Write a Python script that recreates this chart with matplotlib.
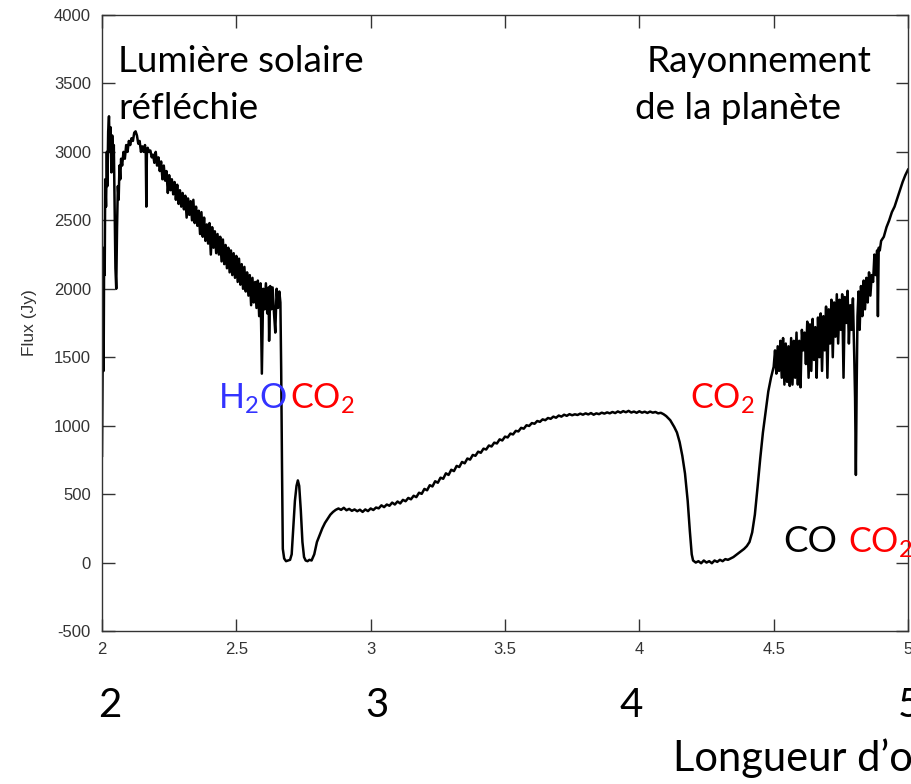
import matplotlib
matplotlib.use("Agg")
import matplotlib.pyplot as plt

plt.rcParams["axes.unicode_minus"] = False

# ---- data ----
wavelength = [
    2.000, 2.002, 2.004, 2.006, 2.008, 2.010, 2.012, 2.015, 2.018, 2.020,
    2.023, 2.026, 2.029, 2.032, 2.035, 2.038, 2.041, 2.044, 2.047, 2.050,
    2.053, 2.056, 2.059, 2.062, 2.065, 2.068, 2.071, 2.075, 2.080, 2.085,
    2.090, 2.095, 2.100, 2.105, 2.110, 2.115, 2.120, 2.125, 2.130, 2.135,
    2.140, 2.145, 2.150, 2.155, 2.160, 2.163, 2.165, 2.167, 2.170, 2.175,
    2.180, 2.185, 2.190, 2.195,
    2.200, 2.205, 2.210, 2.215, 2.220, 2.225, 2.230, 2.235, 2.240, 2.245,
    2.250, 2.255, 2.260, 2.265, 2.270, 2.275, 2.280, 2.285, 2.290, 2.295,
    2.300, 2.305, 2.310, 2.315, 2.320, 2.325, 2.330, 2.335, 2.340, 2.345,
    2.350, 2.355, 2.360, 2.365, 2.370, 2.375, 2.380, 2.385, 2.390, 2.395,
    2.400, 2.405, 2.410, 2.415, 2.420, 2.425, 2.430, 2.435, 2.440, 2.445,
    2.450, 2.455, 2.460, 2.465, 2.470, 2.475, 2.480, 2.485, 2.490, 2.495,
    2.500, 2.505, 2.510, 2.515, 2.520, 2.525, 2.530, 2.535, 2.540, 2.545,
    2.550, 2.555, 2.560, 2.565, 2.570, 2.575, 2.580, 2.585, 2.590, 2.595,
    2.600, 2.605, 2.610, 2.615, 2.620, 2.622, 2.626, 2.630, 2.635, 2.640,
    2.645, 2.650, 2.655, 2.660, 2.664, 2.667, 2.670, 2.673,
    2.678, 2.685, 2.692, 2.700, 2.706, 2.712, 2.718, 2.724, 2.729, 2.734,
    2.740, 2.746, 2.752, 2.758, 2.765, 2.772, 2.780, 2.790, 2.800, 2.810,
    2.820, 2.830, 2.840, 2.850, 2.860, 2.870,
    2.88, 2.89, 2.90, 2.91, 2.92, 2.93, 2.94, 2.95, 2.96, 2.97,
    2.98, 2.99, 3.00, 3.01, 3.02, 3.03, 3.04, 3.05, 3.06, 3.07,
    3.08, 3.09, 3.10, 3.11, 3.12, 3.13, 3.14, 3.15, 3.16, 3.17,
    3.18, 3.19, 3.20, 3.21, 3.22, 3.23, 3.24, 3.25, 3.26, 3.27,
    3.28, 3.29, 3.30, 3.31, 3.32, 3.33, 3.34, 3.35, 3.36, 3.37,
    3.38, 3.39, 3.40, 3.41, 3.42, 3.43, 3.44, 3.45, 3.46, 3.47,
    3.48, 3.49, 3.50, 3.51, 3.52, 3.53, 3.54, 3.55, 3.56, 3.57,
    3.58, 3.59, 3.60, 3.61, 3.62, 3.63, 3.64, 3.65, 3.66, 3.67,
    3.68, 3.69, 3.70, 3.71, 3.72, 3.73, 3.74, 3.75, 3.76, 3.77,
    3.78, 3.79, 3.80, 3.81, 3.82, 3.83, 3.84, 3.85, 3.86, 3.87,
    3.88, 3.89, 3.90, 3.91, 3.92, 3.93, 3.94, 3.95, 3.96, 3.97,
    3.98, 3.99, 4.00, 4.01, 4.02, 4.03, 4.04, 4.05, 4.06, 4.07,
    4.08, 4.09, 4.10,
    4.115, 4.130, 4.140, 4.150, 4.160, 4.170,
    4.180, 4.188, 4.195, 4.200, 4.210, 4.220, 4.230, 4.240, 4.250, 4.260,
    4.270, 4.280, 4.290, 4.300, 4.310, 4.320, 4.330, 4.340, 4.350, 4.360,
    4.370, 4.380, 4.390, 4.400, 4.410, 4.420, 4.430, 4.440, 4.450, 4.460,
    4.470, 4.480, 4.490, 4.500, 4.505, 4.510, 4.515, 4.520, 4.525, 4.530,
    4.535, 4.540, 4.545, 4.550, 4.555, 4.560, 4.565, 4.570, 4.575, 4.580,
    4.585, 4.590, 4.595, 4.600, 4.605, 4.610, 4.615, 4.620, 4.625, 4.630,
    4.635, 4.640, 4.645, 4.650, 4.655, 4.660, 4.665, 4.670, 4.675, 4.680,
    4.685, 4.690, 4.695, 4.700, 4.705, 4.710, 4.715, 4.720, 4.725, 4.730,
    4.735, 4.740, 4.745, 4.750, 4.755, 4.760, 4.765, 4.770, 4.775, 4.780,
    4.785, 4.790, 4.795, 4.800, 4.803, 4.806, 4.809, 4.812, 4.816, 4.820,
    4.825, 4.830, 4.835, 4.840, 4.845, 4.850, 4.855, 4.860, 4.865, 4.870,
    4.875, 4.880, 4.885, 4.888, 4.891, 4.895, 4.900, 4.910, 4.920, 4.930,
    4.940, 4.950, 4.960, 4.970, 4.980, 4.990, 5.000,
]

flux = [
    780, 1300, 1900, 1400, 2300, 2100, 2800, 2600, 3000, 2750,
    3150, 3260, 3000, 3180, 2850, 3120, 2950, 3050, 2600, 2150,
    2000, 2450, 2750, 2650, 2900, 2800, 2950, 2900, 3000, 2950,
    3050, 3000, 3080, 3050, 3100, 3080, 3140, 3150, 3120, 3060,
    3080, 3000, 3040, 3000, 3050, 2980, 2600, 2980, 3030, 3000,
    3010, 2960, 2980, 2920,
    3000, 2900, 2960, 2860, 2930, 2800, 2900, 2790, 2860, 2700,
    2830, 2720, 2800, 2690, 2780, 2650, 2760, 2620, 2720, 2600,
    2700, 2580, 2680, 2520, 2660, 2540, 2640, 2500, 2650, 2480,
    2600, 2460, 2570, 2400, 2560, 2380, 2520, 2350, 2470, 2330,
    2480, 2250, 2450, 2300, 2420, 2260, 2400, 2250, 2380, 2200,
    2360, 2180, 2320, 2150, 2300, 2120, 2280, 2100, 2260, 2080,
    2240, 2050, 2220, 2030, 2180, 2000, 2160, 1980, 2120, 1950,
    2100, 1880, 2080, 1900, 2050, 1860, 2060, 1800, 2040, 1380,
    2000, 1850, 2040, 1820, 2010, 1620, 2020, 1850, 2010, 1830,
    1680, 2000, 1860, 1980, 1900, 1400, 700, 100,
    30, 10, 15, 20, 60, 250, 450, 560, 600, 560,
    380, 150, 40, 15, 10, 20, 15, 60, 150, 200,
    250, 290, 320, 350, 370, 385,
    395, 385, 400, 382, 392, 378, 388, 375, 386, 370,
    388, 376, 395, 384, 402, 396, 418, 405, 424, 415,
    438, 424, 446, 432, 458, 448, 472, 462, 488, 478,
    510, 502, 538, 528, 565, 556, 594, 583, 620, 612,
    652, 640, 678, 668, 706, 698, 735, 725, 760, 752,
    786, 780, 810, 802, 832, 826, 855, 848, 876, 870,
    900, 892, 920, 914, 942, 936, 962, 958, 984, 978,
    1003, 998, 1019, 1014, 1034, 1028, 1046, 1040, 1056, 1050,
    1066, 1058, 1074, 1066, 1080, 1072, 1084, 1076, 1083, 1078,
    1088, 1080, 1090, 1082, 1092, 1080, 1090, 1084, 1095, 1088,
    1097, 1090, 1100, 1092, 1104, 1095, 1106, 1098, 1108, 1096,
    1103, 1094, 1105, 1095, 1102, 1093, 1103, 1095, 1100, 1090,
    1094, 1084, 1070,
    1040, 990, 950, 880, 780, 650,
    450, 230, 60, 15, 0, 10, -5, 15, 0, 10,
    -5, 15, 5, 20, 10, 25, 20, 30, 40, 55,
    70, 85, 100, 120, 150, 220, 350, 550, 760, 950,
    1100, 1250, 1350, 1430, 1550, 1380, 1580, 1400, 1620, 1350,
    1640, 1300, 1600, 1320, 1580, 1290, 1640, 1300, 1620, 1350,
    1680, 1300, 1620, 1280, 1700, 1550, 1680, 1450, 1760, 1350,
    1740, 1400, 1780, 1480, 1720, 1350, 1790, 1500, 1820, 1400,
    1800, 1550, 1870, 1350, 1850, 1600, 1920, 1500, 1900, 1650,
    1960, 1600, 1920, 1700, 1960, 1350, 1940, 1750, 1985, 1600,
    1880, 1700, 1930, 1500, 1200, 640, 1300, 1800, 1980, 1700,
    2020, 1800, 2060, 1850, 2080, 1900, 2120, 1950, 2100, 2050,
    2250, 2100, 2280, 1800, 2300, 2280, 2350, 2380, 2450, 2500,
    2560, 2600, 2660, 2720, 2780, 2830, 2870,
]

x_ticks = [2, 2.5, 3, 3.5, 4, 4.5, 5]
x_tick_labels = ["2", "2.5", "3", "3.5", "4", "4.5", "5"]
y_ticks = [-500, 0, 500, 1000, 1500, 2000, 2500, 3000, 3500, 4000]
y_label = "Flux (Jy)"

# ---- figure ----
W, H = 912, 784
fig = plt.figure(figsize=(W / 100, H / 100), dpi=100)
fig.patch.set_facecolor("white")

ax = fig.add_axes([102 / W, 1 - 631 / H, (908 - 102) / W, (631 - 15) / H])
ax.plot(wavelength, flux, color="black", linewidth=1.8)
ax.set_xlim(2, 5)
ax.set_ylim(-500, 4000)
ax.set_xticks(x_ticks)
ax.set_xticklabels(x_tick_labels)
ax.set_yticks(y_ticks)
tick_font = dict(family="Liberation Sans", size=12.5, color="#333333")
for lab in ax.get_xticklabels() + ax.get_yticklabels():
    lab.set_fontfamily("Liberation Sans")
    lab.set_fontsize(12)
    lab.set_color("#333333")
ax.tick_params(direction="in", length=9, width=1, top=True, right=True,
               color="#333333", pad=8)
for sp in ax.spines.values():
    sp.set_color("#333333")
    sp.set_linewidth(1.0)
ax.set_ylabel(y_label, fontdict=tick_font, labelpad=12)

# ---- large overlay annotations ----
plt.rcParams["mathtext.fontset"] = "custom"
plt.rcParams["mathtext.rm"] = "Lato"
BIG = "Lato"


def ptext(x, y, s, size, color="black", **kw):
    fig.text(x / W, 1 - y / H, s, fontsize=size, color=color, family=BIG,
             ha="left", va="baseline", **kw)


ANN = 26.5
SUB = 24.5
ptext(118, 72, "Lumière solaire", ANN)
ptext(118, 119, "réfléchie", ANN)
ptext(647, 72, "Rayonnement", ANN)
ptext(635, 119, "de la planète", ANN)
ptext(218, 408, r"H$_\mathrm{2}$O", SUB, color="#3333FF")
ptext(290, 408, r"CO$_\mathrm{2}$", SUB, color="#FF0000")
ptext(690, 408, r"CO$_\mathrm{2}$", SUB, color="#FF0000")
ptext(783, 552, "CO", ANN)
ptext(848, 552, r"CO$_\mathrm{2}$", SUB, color="#FF0000")

BIGN = 29
ptext(98, 717, "2", BIGN)
ptext(365, 717, "3", BIGN)
ptext(619, 717, "4", BIGN)
ptext(898, 717, "5", BIGN)
ptext(673, 771, "Longueur d’onde", 30)

fig.savefig("out.png", dpi=100, facecolor="white")
